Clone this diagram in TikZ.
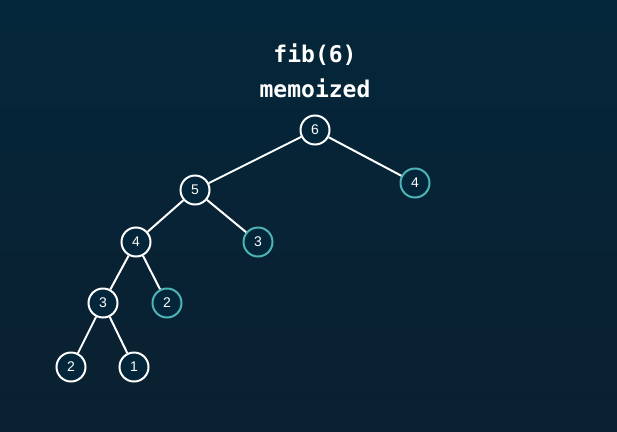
\documentclass[tikz,border=0pt]{standalone}
\usepackage{fontspec}
\setmainfont{Liberation Sans}
\newfontfamily\codefont{DejaVu Sans Mono}
\usepackage{tikz}
\definecolor{bgtop}{HTML}{04263A}
\definecolor{bgbottom}{HTML}{0B2030}
\definecolor{memo}{HTML}{4DB3B5}

\begin{document}
\begin{tikzpicture}[x=1pt, y=-1pt,
        call/.style={circle, draw=white, line width=2pt, fill=bgtop, minimum size=29pt, inner sep=0pt, text=white, font=\fontsize{14}{14}\selectfont},
        cached/.style={call, draw=memo},
        edge/.style={draw=white, line width=2pt},
        title/.style={text=white, font=\codefont\bfseries\fontsize{23}{23}\selectfont}]
        \shade [top color=bgtop, bottom color=bgbottom] (0,0) rectangle (617,431);
        \useasboundingbox (0,0) rectangle (617,431);
        \node [title] (head) at (315,55) {fib(6)};
        \node [title] (sub) at (315,88) {memoized};
        % call tree
        \node [call] (f6) at (315,130) {6};
        \node [call] (f5) at (195,190) {5};
        \node [cached] (m4) at (415,183) {4};
        \node [call] (f4) at (136,242) {4};
        \node [cached] (m3) at (258,242) {3};
        \node [call] (f3) at (103,303) {3};
        \node [cached] (m2) at (167,303) {2};
        \node [call] (f2) at (71,367) {2};
        \node [call] (f1) at (134,367) {1};
        \path [edge] (f6) -- (f5);
        \path [edge] (f6) -- (m4);
        \path [edge] (f5) -- (f4);
        \path [edge] (f5) -- (m3);
        \path [edge] (f4) -- (f3);
        \path [edge] (f4) -- (m2);
        \path [edge] (f3) -- (f2);
        \path [edge] (f3) -- (f1);
    \end{tikzpicture}
\end{document}
